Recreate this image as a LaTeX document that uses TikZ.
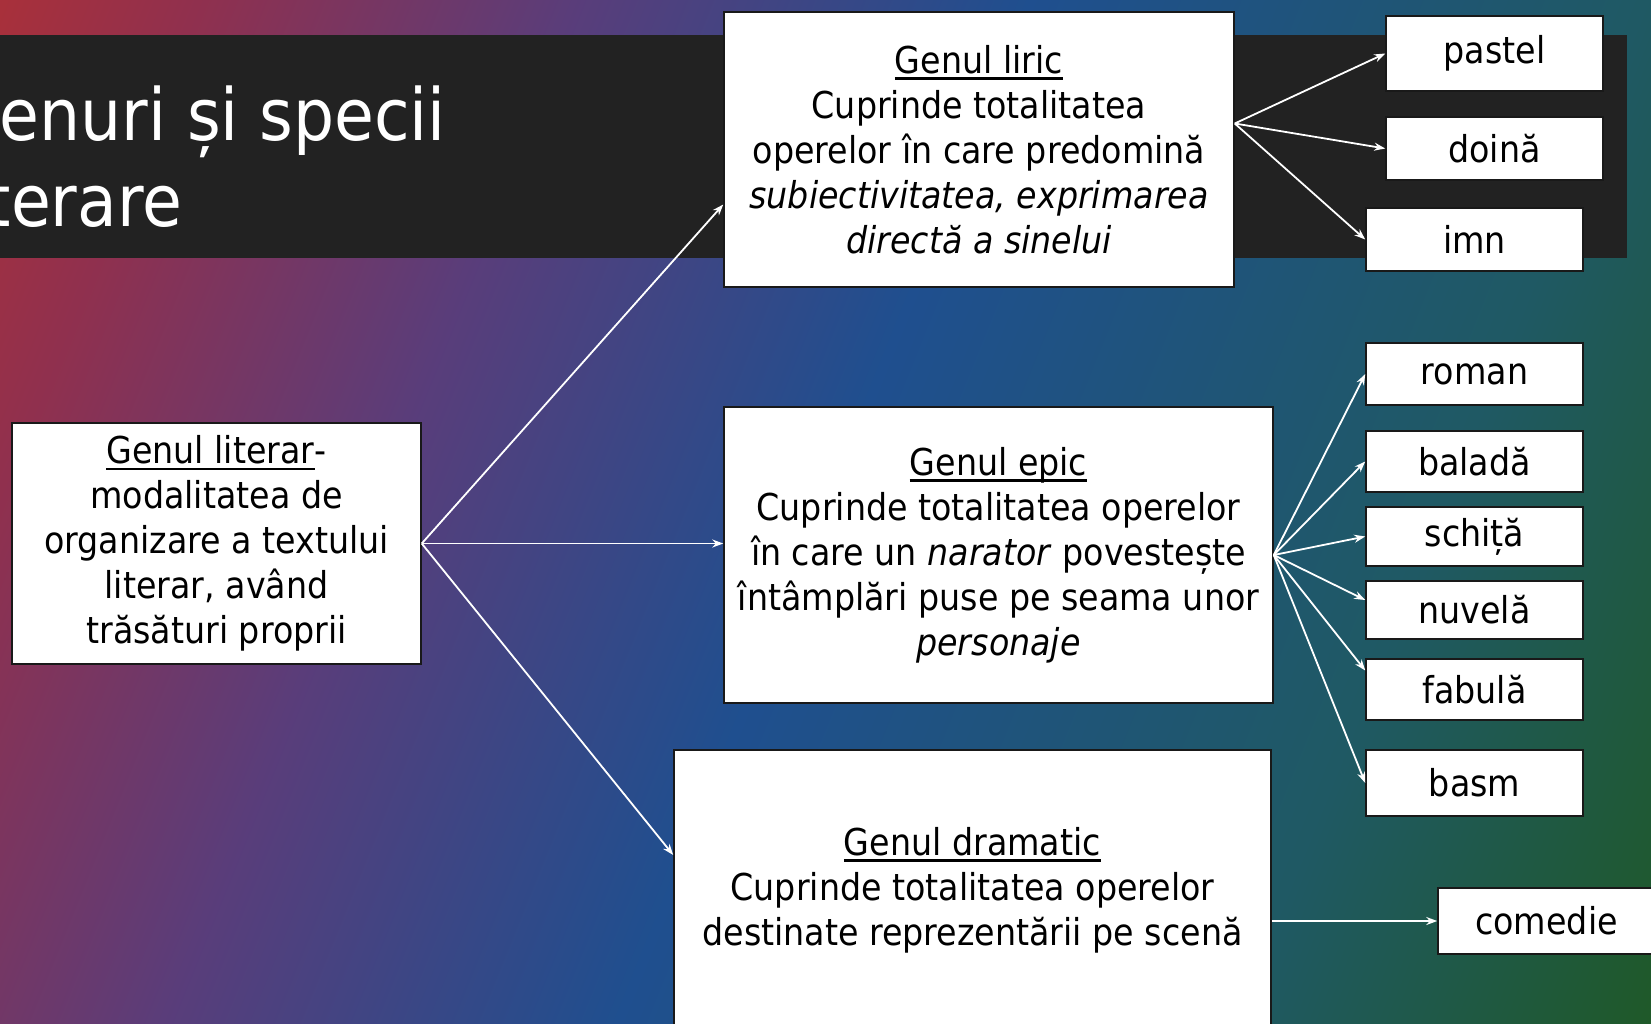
\documentclass[tikz,border=0pt]{standalone}
\usepackage{fontspec}
\setmainfont{DejaVu Sans}[FakeStretch=0.9]
\usetikzlibrary{arrows.meta,calc,positioning}

% fundal: rosu sus-stanga, albastru la mijloc, verde jos-dreapta
\pgfdeclarehorizontalshading{fundal}{100bp}{%
  rgb(0bp)=(0.66,0.19,0.23);
  rgb(17.5bp)=(0.66,0.19,0.23);
  rgb(24bp)=(0.56,0.19,0.31);
  rgb(35.7bp)=(0.35,0.24,0.48);
  rgb(50bp)=(0.12,0.31,0.56);
  rgb(69.5bp)=(0.12,0.35,0.39);
  rgb(82.5bp)=(0.12,0.35,0.16);
  rgb(100bp)=(0.12,0.35,0.16)}

\definecolor{banda}{RGB}{34,34,34}
\definecolor{contur}{RGB}{25,25,25}

% subliniere mai groasa pentru titlurile casetelor
\newcommand\subliniat[1]{\setbox0\hbox{#1}\rlap{\raisebox{-6.5pt}{\rule{\wd0}{2.6pt}}}\box0}

\tikzset{
  gen/.style={draw=contur, line width=1.5pt, fill=white, align=center,
    inner sep=0pt, font=\fontsize{37}{45}\selectfont},
  specie/.style={gen, minimum width=217},
  sageata/.style={draw=white, line width=1.8pt, -{Stealth[length=11pt,width=8pt]}},
  titlu/.style={text=white, inner sep=0pt, font=\fontsize{72}{86}\selectfont}
}

\begin{document}
\begin{tikzpicture}[x=1pt,y=-1pt]
  \useasboundingbox (0,0) rectangle (1651,1023);
  \clip (0,0) rectangle (1651,1023);

  %draw background and title band
  \shade[shading=fundal, shading angle=-22] (0,0) rectangle (1651,1023);
  \fill[banda] (0,35) rectangle (1627,258);
  \node[titlu, anchor=base east] (titlu1) at (446,140) {Genuri și specii};
  \node[titlu, anchor=base west] (titlu2) at ([yshift=-86pt]titlu1.base west) {literare};

  %draw main boxes
  \node[gen, minimum width=409, minimum height=241] (literar) at (216.5,543.5)
    {\subliniat{Genul literar}-\\modalitatea de\\organizare a textului\\literar, având\\trăsături proprii};
  \node[gen, minimum width=510, minimum height=275] (liric) at (979,149.5)
    {\subliniat{Genul liric}\\Cuprinde totalitatea\\operelor în care predomină\\\textit{subiectivitatea, exprimarea}\\\textit{directă a sinelui}};
  \node[gen, minimum width=549, minimum height=296] (epic) at (998.5,555)
    {\subliniat{Genul epic}\\Cuprinde totalitatea operelor\\în care un \textit{narator} povestește\\întâmplări puse pe seama unor\\\textit{personaje}};
  \node[gen, minimum width=597, minimum height=280] (dramatic) at (972.5,890)
    {\subliniat{Genul dramatic}\\Cuprinde totalitatea operelor\\destinate reprezentării pe scenă};

  %draw species boxes
  \node[specie, minimum height=75] (pastel) at (1494.5,53.5) {pastel};
  \node[specie, minimum height=63] (doina) at (1494.5,148.5) {doină};
  \node[specie, minimum height=63] (imn) at (1474.5,239.5) {imn};
  \foreach \nume/\eticheta/\y/\h in {roman/roman/374/62, balada/baladă/461.5/61,
      schita/schiță/536.5/59, nuvela/nuvelă/610/58, fabula/fabulă/689.5/61, basm/basm/783/66}
    \node[specie, minimum height=\h] (\nume) at (1474.5,\y) {\eticheta};
  \node[specie, minimum height=66] (comedie) at (1546.5,921) {comedie};

  %draw arrows
  \draw[sageata] (literar.east) -- ($(liric.west)+(0,55)$);
  \draw[sageata] (literar.east) -- (epic.west |- literar.east);
  \draw[sageata] (literar.east) -- ($(dramatic.west)+(0,-35)$);

  \coordinate (liric-out) at ($(liric.east)+(0,-26)$);
  \foreach \nume in {pastel, doina, imn}
    \draw[sageata] (liric-out) -- (\nume.west);

  \foreach \nume/\dy in {roman/0, balada/0, schita/0, nuvela/-10, fabula/-19, basm/0}
    \draw[sageata] (epic.east) -- ($(\nume.west)+(0,\dy)$);

  \draw[sageata] (dramatic.east |- comedie.west) -- (comedie.west);
\end{tikzpicture}
\end{document}
